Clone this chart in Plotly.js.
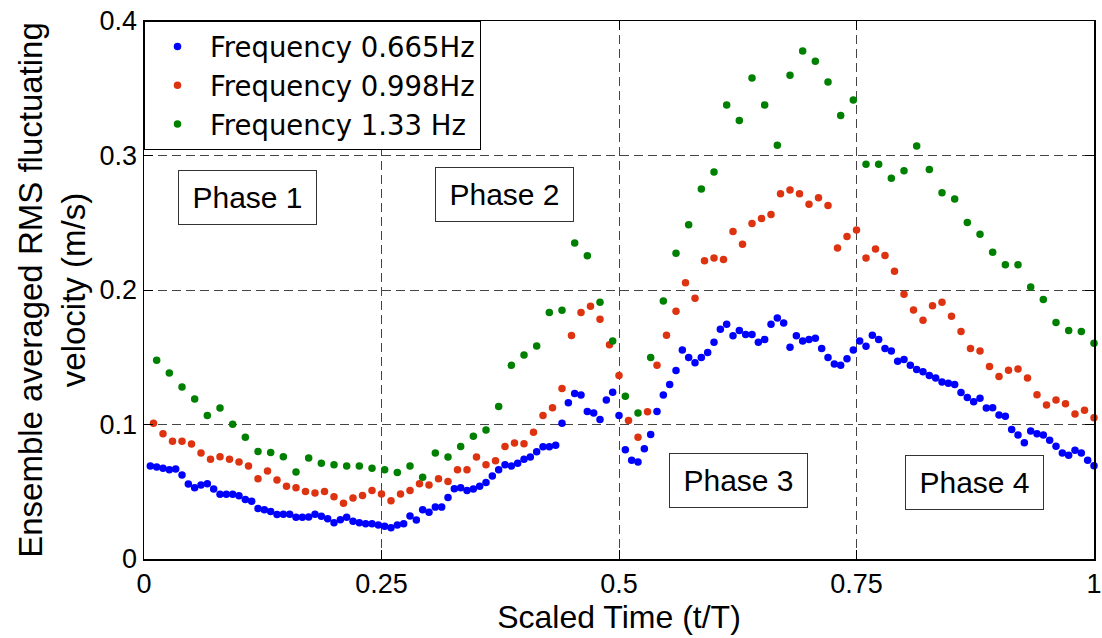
<!DOCTYPE html>
<html>
<head>
<meta charset="utf-8">
<script src="https://cdn.plot.ly/plotly-3.0.1.min.js"></script>
<style>html,body{margin:0;padding:0;background:#fff;}#chart{width:1102px;height:638px;}</style>
</head>
<body>
<div id="chart"></div>
<script>
// Series names and colours
const seriesNames = ['Frequency 0.665Hz', 'Frequency 0.998Hz', 'Frequency 1.33 Hz'];
const seriesColors = ['#0000FF', '#DD3311', '#008000'];
// Number of samples per period (t/T = k / N, k = 1..N)
const samplesPerPeriod = [150, 100, 75];

// Frequency 0.665 Hz
const rms0665 = [
0.0691,0.0684,0.0674,0.0664,0.0669,0.0624,0.0557,0.0530,0.0550,0.0560,
0.0520,0.0481,0.0481,0.0481,0.0471,0.0443,0.0429,0.0376,0.0367,0.0354,
0.0330,0.0332,0.0332,0.0310,0.0310,0.0312,0.0332,0.0317,0.0300,0.0270,
0.0292,0.0310,0.0280,0.0270,0.0262,0.0262,0.0252,0.0243,0.0233,0.0252,
0.0262,0.0319,0.0290,0.0367,0.0347,0.0386,0.0386,0.0457,0.0522,0.0530,
0.0510,0.0520,0.0540,0.0568,0.0617,0.0664,0.0701,0.0691,0.0711,0.0741,
0.0758,0.0798,0.0835,0.0835,0.0845,0.1010,0.1162,0.1230,0.1220,0.1096,
0.1086,0.1038,0.1182,0.1240,0.1067,0.0812,0.0734,0.0721,0.0820,0.0925,
0.1096,0.1220,0.1297,0.1402,0.1554,0.1498,0.1460,0.1498,0.1535,0.1612,
0.1708,0.1746,0.1659,0.1699,0.1669,0.1669,0.1612,0.1632,0.1746,0.1792,
0.1755,0.1574,0.1659,0.1621,0.1632,0.1641,0.1565,0.1498,0.1450,0.1440,
0.1488,0.1553,0.1620,0.1582,0.1664,0.1632,0.1565,0.1547,0.1470,0.1483,
0.1440,0.1408,0.1393,0.1364,0.1346,0.1316,0.1306,0.1297,0.1237,0.1200,
0.1170,0.1195,0.1123,0.1125,0.1071,0.1061,0.0962,0.0922,0.0865,0.0952,
0.0932,0.0922,0.0882,0.0838,0.0788,0.0771,0.0808,0.0788,0.0734,0.0694];

// Frequency 0.998 Hz
const rms0998 = [
0.1009,0.0932,0.0875,0.0875,0.0855,0.0788,0.0741,0.0761,0.0741,0.0721,
0.0691,0.0597,0.0654,0.0587,0.0540,0.0530,0.0501,0.0490,0.0501,0.0463,
0.0414,0.0453,0.0473,0.0510,0.0483,0.0434,0.0483,0.0510,0.0560,0.0550,
0.0597,0.0577,0.0664,0.0664,0.0758,0.0701,0.0731,0.0836,0.0863,0.0856,
0.0942,0.1066,0.1124,0.1267,0.1661,0.1832,0.1880,0.1783,0.1593,0.1364,
0.1029,0.0905,0.1095,0.1440,0.1663,0.1842,0.2053,0.1939,0.2217,0.2237,
0.2227,0.2435,0.2341,0.2495,0.2532,0.2562,0.2715,0.2743,0.2715,0.2638,
0.2685,0.2629,0.2313,0.2398,0.2446,0.2237,0.2304,0.2257,0.2140,0.1969,
0.1852,0.1775,0.1882,0.1909,0.1805,0.1691,0.1565,0.1547,0.1431,0.1356,
0.1403,0.1413,0.1346,0.1222,0.1145,0.1182,0.1155,0.1078,0.1106,0.1051];

// Frequency 1.33 Hz
const rms133 = [
0.1478,0.1383,0.1279,0.1190,0.1066,0.1123,0.1001,0.0905,0.0800,0.0791,
0.0761,0.0647,0.0751,0.0711,0.0701,0.0691,0.0691,0.0674,0.0664,0.0644,
0.0691,0.0607,0.0788,0.0759,0.0836,0.0913,0.0960,0.1134,0.1440,0.1517,
0.1584,0.1832,0.1850,0.2350,0.2254,0.1909,0.1621,0.1210,0.1086,0.1498,
0.1918,0.2273,0.2485,0.2750,0.2877,0.3375,0.3261,0.3576,0.3375,0.3077,
0.3596,0.3777,0.3700,0.3546,0.3298,0.3412,0.2935,0.2935,0.2830,0.2886,
0.3070,0.2896,0.2723,0.2676,0.2502,0.2415,0.2281,0.2187,0.2187,0.2023,
0.1929,0.1758,0.1699,0.1691,0.1604];

// Axis ticks
const xTickVals = [0, 0.25, 0.5, 0.75, 1];
const xTickText = ['0', '0.25', '0.5', '0.75', '1'];
const yTickVals = [0, 0.1, 0.2, 0.3, 0.4];
const yTickText = ['0', '0.1', '0.2', '0.3', '0.4'];

// Phase labels
const phaseLabels = ['Phase 1', 'Phase 2', 'Phase 3', 'Phase 4'];
const phaseX = [0.109, 0.379, 0.626, 0.874];
const phaseY = [0.269, 0.271, 0.058, 0.057];

const allValues = [rms0665, rms0998, rms133];
const FONT = 'Arial, "Liberation Sans", Helvetica, sans-serif';

const traces = allValues.map(function (vals, i) {
  const n = samplesPerPeriod[i];
  const t = vals.map(function (_, k) { return (k + 1) / n; });
  return {
    type: 'scatter',
    mode: 'markers',
    name: seriesNames[i],
    x: t,
    y: vals,
    cliponaxis: false,
    marker: { color: seriesColors[i], size: 7.5, line: { width: 0 } }
  };
});

const annotations = phaseLabels.map(function (txt, i) {
  return {
    x: phaseX[i], y: phaseY[i], xref: 'x', yref: 'y',
    text: txt, showarrow: false,
    font: { family: FONT, size: 30, color: '#000' },
    bgcolor: '#fff', bordercolor: '#333', borderwidth: 1, borderpad: 0,
    width: 137, height: 53, align: 'center', valign: 'middle'
  };
});

const axisCommon = {
  showline: true, linecolor: '#000', linewidth: 1.5, mirror: 'ticks',
  ticks: 'inside', ticklen: 9, tickwidth: 1, tickcolor: '#000',
  showgrid: true, gridcolor: '#444', gridwidth: 1, griddash: '9px,5px',
  zeroline: false, ticklabeloverflow: 'allow',
  tickfont: { family: FONT, size: 27, color: '#000' }
};

const layout = {
  width: 1102, height: 638,
  margin: { l: 144, r: 8, t: 21, b: 79, pad: 0 },
  paper_bgcolor: '#fff', plot_bgcolor: '#fff',
  showlegend: true,
  legend: {
    x: 0, y: 1, xanchor: 'left', yanchor: 'top',
    bgcolor: '#fff', bordercolor: '#000', borderwidth: 1,
    font: { family: '"DejaVu Sans", Arial, sans-serif', size: 27.5, color: '#000' },
    itemwidth: 55, tracegroupgap: 0
  },
  xaxis: Object.assign({}, axisCommon, {
    range: [0, 1], tickmode: 'array', tickvals: xTickVals, ticktext: xTickText,
    title: { text: 'Scaled Time (t/T)', font: { family: FONT, size: 32, color: '#000' }, standoff: 0 }
  }),
  yaxis: Object.assign({}, axisCommon, {
    range: [0, 0.4], tickmode: 'array', tickvals: yTickVals, ticktext: yTickText,
    title: { text: 'Ensemble averaged RMS fluctuating<br>velocity (m/s)', font: { family: FONT, size: 33, color: '#000' }, standoff: 4 }
  }),
  annotations: annotations
};

Plotly.newPlot('chart', traces, layout, { displayModeBar: false, staticPlot: true });
</script>
</body>
</html>
